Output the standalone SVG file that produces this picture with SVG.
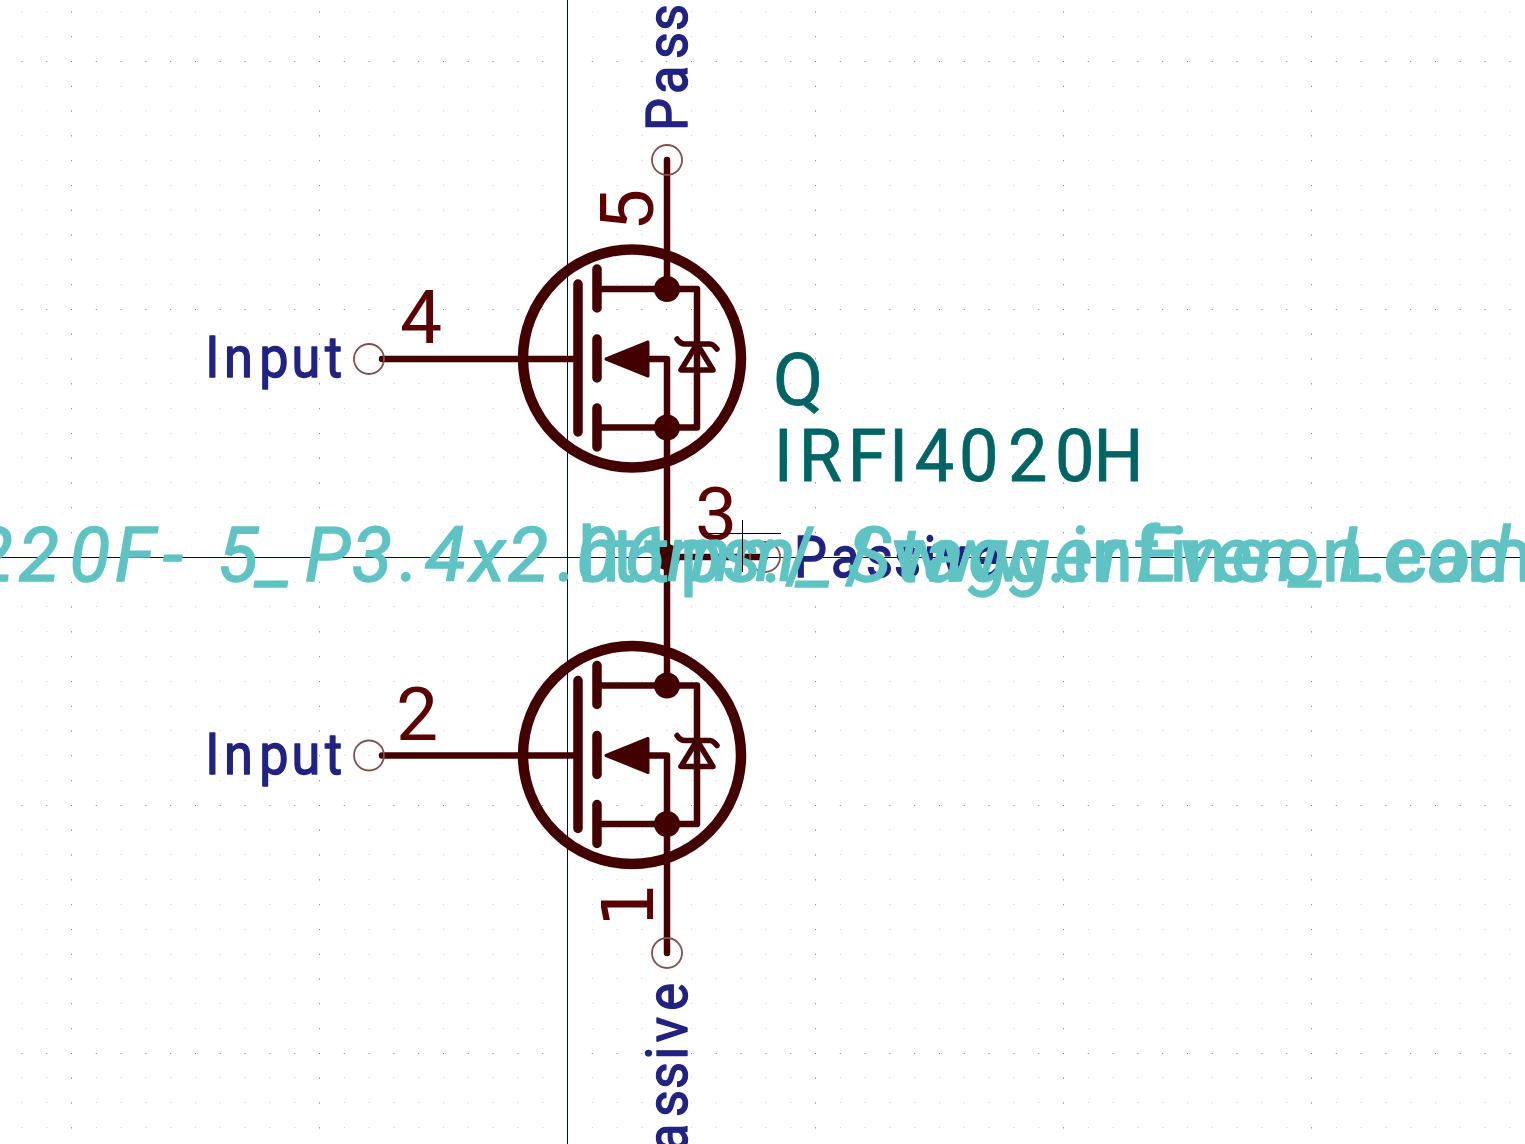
<svg xmlns="http://www.w3.org/2000/svg" width="1525" height="1144" viewBox="0 0 1525 1144">
<style>
text{font-family:Roboto,"Noto Sans",sans-serif;stroke-linejoin:round}
.wire{fill:none;stroke:#430000;stroke-linecap:round;stroke-linejoin:round}
.thin{stroke-width:6.500}
.bar{stroke-width:9.500}
.dot{fill:#430000}
.pc{fill:none;stroke:#805050;stroke-width:1.800}
.pin{fill:#222280;stroke:#222280;stroke-width:1.400;font-size:58px}
.num{fill:#5a0000;font-size:75px}
.val{fill:#006464;font-size:73px;stroke:#006464;stroke-width:.8}
.fp{fill:#60c3c3;stroke:#60c3c3;stroke-width:1.500;font-size:76px}
.it{font-style:italic}
.gr{fill:none;stroke:#c8c8c8;stroke-width:1;stroke-dasharray:1 23.8}
.gm{fill:none;stroke:#808080;stroke-width:1;stroke-dasharray:1 23.8}
.axis{stroke:#000080;stroke-width:1;fill:none}
.cur{stroke:#000;stroke-width:1;fill:none}
</style>
<defs>
<g id="mosfet">
<circle class="wire" cx="632" cy="358.500" r="109" stroke-width="10.500"/>
<path class="wire bar" d="M578 284V432M597 269V308M597 339V378M597 408V447"/>
<path class="wire thin" d="M601 289H697V427.500H601M667 359V427.500M648 359H667"/>
<path d="M606 359L648 342V376Z" fill="#430000" stroke="#430000" stroke-width="3" stroke-linejoin="round"/>
<circle class="dot" cx="667" cy="289" r="13"/>
<circle class="dot" cx="667" cy="427.500" r="13"/>
<path class="wire" stroke-width="5.500" d="M677 339Q680 344 685 344H710Q713 344 717 349M697 344L681 370H713Z"/>
</g>
</defs>
<rect width="1525" height="1144" fill="#fff"/>
<g id="grid">
<path class="gr" d="M-3.400 11.900H1525M-3.400 36.500H1525M-3.400 86.500H1525M-3.400 110.900H1525M-3.400 135.500H1525M-3.400 160.500H1525M-3.400 185.500H1525M-3.400 209.900H1525M-3.400 234.500H1525M-3.400 259.500H1525M-3.400 284.500H1525M-3.400 333.500H1525M-3.400 358.500H1525M-3.400 383.500H1525M-3.400 408.500H1525M-3.400 433.500H1525M-3.400 457.500H1525M-3.400 482.500H1525M-3.400 507.500H1525M-3.400 532.500H1525M-3.400 582.500H1525M-3.400 606.500H1525M-3.400 631.500H1525M-3.400 656.500H1525M-3.400 681.500H1525M-3.400 706.500H1525M-3.400 730.500H1525M-3.400 755.500H1525M-3.400 780.500H1525M-3.400 829.500H1525M-3.400 854.500H1525M-3.400 879.500H1525M-3.400 904.500H1525M-3.400 929.500H1525M-3.400 954.500H1525M-3.400 978.500H1525M-3.400 1003.500H1525M-3.400 1028.500H1525M-3.400 1077.500H1525M-3.400 1102.500H1525M-3.400 1127.500H1525"/>
<path class="gm" d="M-3.400 61.500H1525M-3.400 309.500H1525M-3.400 805.500H1525M-3.400 1053.500H1525M-3.400 557.500H1525"/>
<path class="gm" d="M71.500 -13.400V1144M319.500 -13.400V1144M815.500 -13.400V1144M1063.500 -13.400V1144M1311.500 -13.400V1144"/>
</g>
<g id="axes">
<path class="axis" d="M567.500 0V1144M0 557.500H1525"/>
</g>
<g id="connectors">
<path class="wire thin" d="M667 160V289M667 427.500V686M667 825V953M382 359H578M382 755.500H578M667 557H765"/>
<circle class="dot" cx="667" cy="557" r="13"/>
</g>
<g id="Q-upper">
<use href="#mosfet"/>
<circle class="pc" cx="369" cy="359" r="15"/>
<circle class="pc" cx="667" cy="160" r="15"/>
<text class="pin" transform="translate(0 377) scale(.9 1)" x="228 249 288 324 361">Input</text>
<text class="pin" transform="translate(687 131) rotate(-90) scale(.9 1)" x="0 41 80 111 144 163 198">Passive</text>
<text class="num" x="400" y="343">4</text>
<text class="num" transform="translate(653 231) rotate(-90)">5</text>
</g>
<g id="Q-lower">
<use href="#mosfet" y="396.500"/>
<circle class="pc" cx="369" cy="755.500" r="15"/>
<circle class="pc" cx="667" cy="953" r="15"/>
<text class="pin" transform="translate(0 773.500) scale(.9 1)" x="228 249 288 324 361">Input</text>
<text class="pin" transform="translate(687 1189) rotate(-90) scale(.9 1)" x="0 41 80 111 144 163 198">Passive</text>
<text class="num" x="396" y="740">2</text>
<text class="num" style="font-family:'DejaVu Sans',sans-serif;font-size:72px" transform="translate(653 928) rotate(-90)">1</text>
</g>
<g id="pin3">
<circle class="pc" cx="765" cy="557" r="15"/>
<text class="pin" transform="translate(794 577) scale(.9 1)" x="0 41 80 111 144 163 198">Passive</text>
<text class="num" x="695" y="540">3</text>
</g>
<g id="fields">
<text class="val" x="773" y="405">Q</text>
<text class="val" transform="translate(0 481) scale(.96 1)" x="806 832 883 926 953 999 1050 1099 1139">IRFI4020H</text>
<text class="fp it" transform="translate(0 581) scale(.98 1)" x="-28 19 71 117 166 222 264 311 359 408 434 479 518 569 588 637 681 747 816 865 915 943 988 1030 1076 1122 1160 1203 1239 1280 1319 1366 1412 1457 1499">220F-5_P3.4x2.06mm_StaggerEven_Lead</text>
<text class="fp" transform="translate(0 581) scale(.98 1)" x="590 624 658 694 736 777 801 862 911 962 1013 1068 1093 1114 1157 1193 1210 1256 1303 1349 1395 1416 1457 1497">https://www.infineon.com</text>
</g>
<g id="cursor">
<path class="cur" d="M703.500 533.500H781M742.500 520V572"/>
</g>
</svg>
